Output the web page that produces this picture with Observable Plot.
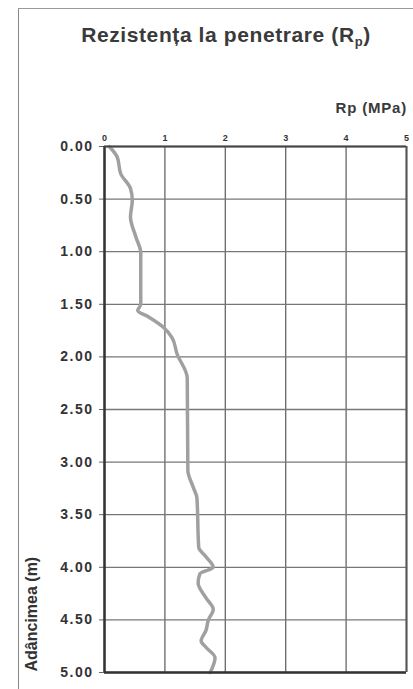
<!DOCTYPE html>
<html>
<head>
<meta charset="utf-8">
<script src="https://cdn.jsdelivr.net/npm/d3@7"></script>
<script src="https://cdn.jsdelivr.net/npm/@observablehq/plot@0.6"></script>
<style>
  html, body { margin: 0; padding: 0; background: #fff; }
  #wrap { position: relative; width: 413px; height: 689px; overflow: hidden; font-family: "Liberation Sans", Arial, sans-serif; color: #333; }
  #frameL { position: absolute; left: 18px; top: 8px; width: 0; height: 689px; border-left: 1.5px solid #888; }
  #frameT { position: absolute; left: 18px; top: 8px; width: 400px; height: 0; border-top: 1.5px solid #999; }
  #title { position: absolute; left: 0; width: 452px; top: 23px; text-align: center; font-size: 21px; font-weight: bold; letter-spacing: 0.6px; color: #3a3a3a; }
  #title sub { font-size: 13px; vertical-align: -4px; }
  #unit { position: absolute; right: 6px; top: 99px; font-size: 15px; font-weight: bold; letter-spacing: 0.8px; color: #3a3a3a; }
  #chart { position: absolute; left: 0; top: 0; }
</style>
</head>
<body>
<div id="wrap">
  <div id="frameL"></div>
  <div id="frameT"></div>
  <div id="title">Rezistența la penetrare (R<sub>p</sub>)</div>
  <div id="unit">Rp (MPa)</div>
  <div id="chart"></div>
</div>
<script>
const depth = [0, 0.10, 0.26, 0.40, 0.51, 0.67, 0.86, 1.01, 1.50, 1.56, 1.62, 1.72, 1.82, 1.97, 2.20, 3.08, 3.24, 3.34, 3.81, 3.90, 4.00, 4.06, 4.15, 4.29, 4.40, 4.50, 4.60, 4.70, 4.76, 4.86, 5.00];
const rp    = [0.08, 0.21, 0.27, 0.43, 0.46, 0.43, 0.52, 0.60, 0.60, 0.55, 0.73, 0.98, 1.12, 1.20, 1.37, 1.38, 1.47, 1.53, 1.56, 1.68, 1.80, 1.58, 1.55, 1.68, 1.80, 1.72, 1.68, 1.60, 1.68, 1.83, 1.75];
const xTicks = [0, 1, 2, 3, 4, 5];
const yTicks = [0, 0.5, 1, 1.5, 2, 2.5, 3, 3.5, 4, 4.5, 5];
const yAxisLabel = "Adâncimea (m)";

const data = depth.map((d, i) => ({depth: d, rp: rp[i]}));

const chart = Plot.plot({
  width: 413,
  height: 689,
  marginLeft: 104,
  marginRight: 7,
  marginTop: 146,
  marginBottom: 17,
  style: {fontFamily: "Liberation Sans, Arial, sans-serif", background: "transparent", color: "#333"},
  x: {domain: [0, 5]},
  y: {domain: [0, 5], reverse: true},
  marks: [
    Plot.gridX(xTicks, {stroke: "#666", strokeOpacity: 1, strokeWidth: 1.3}),
    Plot.gridY(yTicks, {stroke: "#777", strokeOpacity: 1, strokeWidth: 1.3}),
    Plot.line(data, {x: "rp", y: "depth", stroke: "#a0a0a0", strokeWidth: 3.5, curve: "monotone-y"}),
    Plot.axisX(xTicks, {anchor: "top", tickSize: 0, tickPadding: 6, fontSize: 9, fontWeight: "bold", label: null, tickFormat: d => String(d)}),
    Plot.axisY(yTicks, {anchor: "left", tickSize: 5, tickPadding: 6, fontSize: 14, fontWeight: "bold", label: null, stroke: "#666", tickFormat: d3.format(".2f")}),
    Plot.ruleX([0], {stroke: "#333", strokeWidth: 2.5}),
    Plot.ruleY([5], {stroke: "#333", strokeWidth: 2.5}),
    Plot.ruleY([0], {stroke: "#444", strokeWidth: 2}),
    Plot.ruleX([5], {stroke: "#555", strokeWidth: 2}),
    Plot.text([yAxisLabel], {frameAnchor: "bottom-left", dx: -68, dy: -1, rotate: -90, fontSize: 16, fontWeight: "bold", text: d => d, ariaLabel: "y-title"})
  ]
});
document.getElementById("chart").appendChild(chart);
chart.querySelectorAll("[aria-label='y-axis tick label'] text").forEach(t => t.setAttribute("letter-spacing", "1.5"));
chart.querySelectorAll("[aria-label='y-title'] text").forEach(t => t.setAttribute("letter-spacing", "1"));
</script>
</body>
</html>
